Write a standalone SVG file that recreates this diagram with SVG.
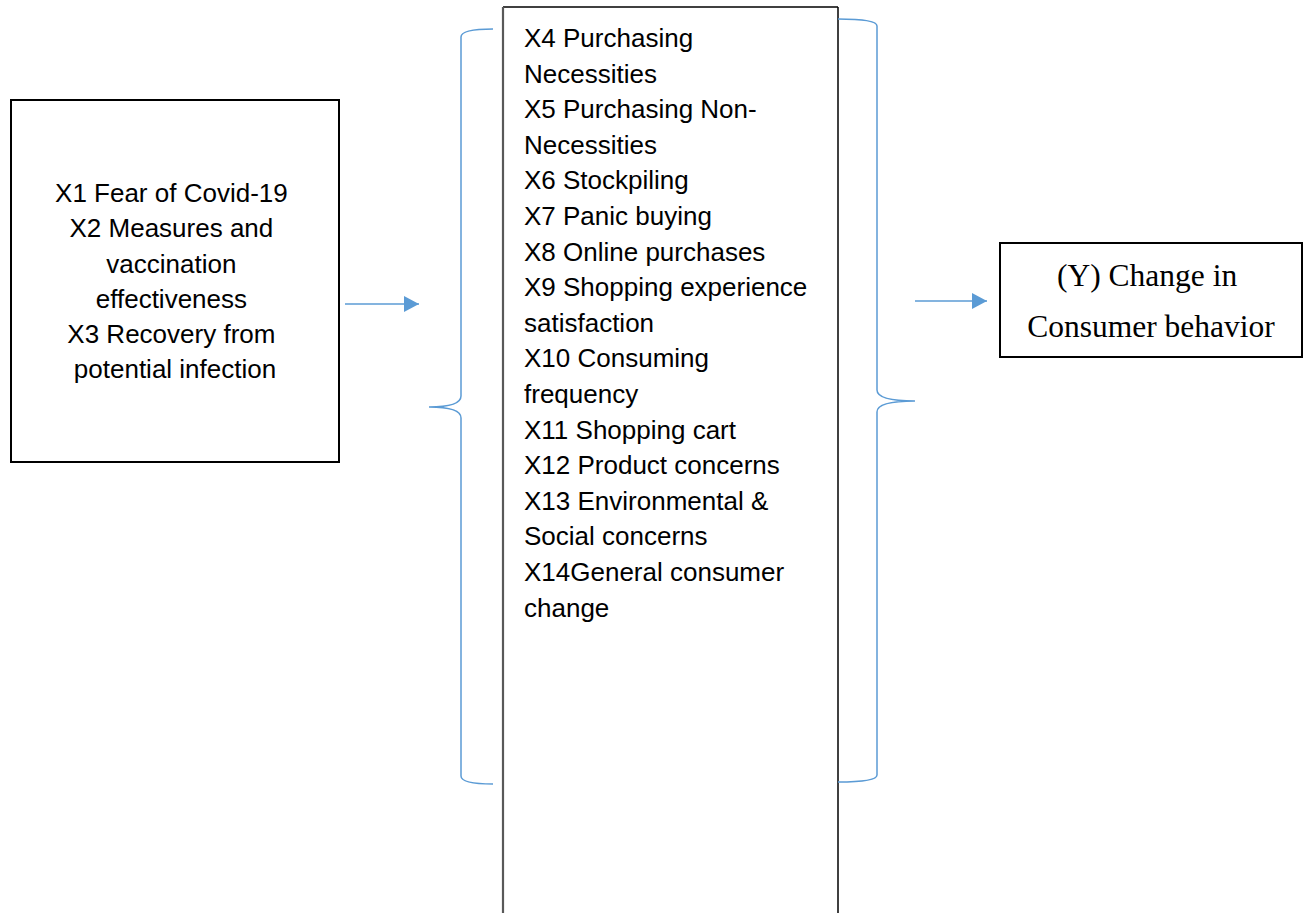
<svg xmlns="http://www.w3.org/2000/svg" width="1310" height="913" viewBox="0 0 1310 913">
  <style>
    .box { fill: #ffffff; stroke: #000000; stroke-width: 2; }
    .sans { font-family: "Liberation Sans", Arial, sans-serif; font-size: 26px; fill: #000000; }
    .serif { font-family: "Liberation Serif", "Times New Roman", serif; font-size: 31.5px; fill: #000000; }
    .brace { fill: none; stroke: #5B9BD5; stroke-width: 1.5; }
    .link { fill: none; stroke: #5B9BD5; stroke-width: 1.5; }
  </style>
  <defs>
    <marker id="arrowhead" markerUnits="userSpaceOnUse" markerWidth="16" markerHeight="17" refX="15" refY="8" orient="auto">
      <path d="M0,0 L15,8 L0,16 Z" fill="#5B9BD5"/>
    </marker>
  </defs>
  <rect width="1310" height="913" fill="#ffffff"/>

  <!-- Independent variables -->
  <g id="node-covid-factors">
    <rect class="box" x="11" y="100" width="328" height="362"/>
    <text class="sans" text-anchor="middle">
      <tspan x="175" y="202">X1 Fear of Covid-19</tspan>
      <tspan x="175" y="237.3">X2 Measures and</tspan>
      <tspan x="175" y="272.6">vaccination</tspan>
      <tspan x="175" y="308">effectiveness</tspan>
      <tspan x="175" y="343">X3 Recovery from</tspan>
      <tspan x="175" y="378">potential infection</tspan>
    </text>
  </g>

  <!-- Behaviour indicators (column runs off the bottom of the page) -->
  <g id="node-behaviour-factors">
    <rect x="503" y="7" width="335" height="920" fill="#ffffff" stroke="none"/>
    <line x1="503" y1="7" x2="838" y2="7" stroke="#000000" stroke-width="1.5"/>
    <line x1="503" y1="7" x2="503" y2="913" stroke="#595959" stroke-width="2.2"/>
    <line x1="838" y1="7" x2="838" y2="913" stroke="#000000" stroke-width="1.5"/>
    <text class="sans">
      <tspan x="524" y="47">X4 Purchasing</tspan>
      <tspan x="524" y="82.6">Necessities</tspan>
      <tspan x="524" y="118.2">X5 Purchasing Non-</tspan>
      <tspan x="524" y="153.8">Necessities</tspan>
      <tspan x="524" y="189.4">X6 Stockpiling</tspan>
      <tspan x="524" y="225">X7 Panic buying</tspan>
      <tspan x="524" y="260.6">X8 Online purchases</tspan>
      <tspan x="524" y="296.2">X9 Shopping experience</tspan>
      <tspan x="524" y="331.8">satisfaction</tspan>
      <tspan x="524" y="367.4">X10 Consuming</tspan>
      <tspan x="524" y="403">frequency</tspan>
      <tspan x="524" y="438.6">X11 Shopping cart</tspan>
      <tspan x="524" y="474.2">X12 Product concerns</tspan>
      <tspan x="524" y="509.8">X13 Environmental &amp;</tspan>
      <tspan x="524" y="545.4">Social concerns</tspan>
      <tspan x="524" y="581">X14General consumer</tspan>
      <tspan x="524" y="616.6">change</tspan>
    </text>
  </g>

  <!-- Dependent variable -->
  <g id="node-consumer-change">
    <rect class="box" x="1000" y="243" width="302" height="114"/>
    <text class="serif" text-anchor="middle">
      <tspan x="1151" y="286">(Y) Change in</tspan>
      <tspan x="1151" y="337">Consumer behavior</tspan>
    </text>
  </g>

  <!-- Braces and arrows -->
  <g id="connectors">
    <path class="brace" d="M493,29 Q461,29 461,37 V396 Q461,407 429,407 Q461,407 461,418 V776 Q461,784 493,784"/>
    <path class="brace" d="M838,19 Q877,19 877,26 V390 Q877,401 915,401 Q877,401 877,412 V775 Q877,782 838,782"/>
    <line class="link" x1="345" y1="304" x2="419" y2="304" marker-end="url(#arrowhead)"/>
    <line class="link" x1="915" y1="301" x2="987" y2="301" marker-end="url(#arrowhead)"/>
  </g>
</svg>
